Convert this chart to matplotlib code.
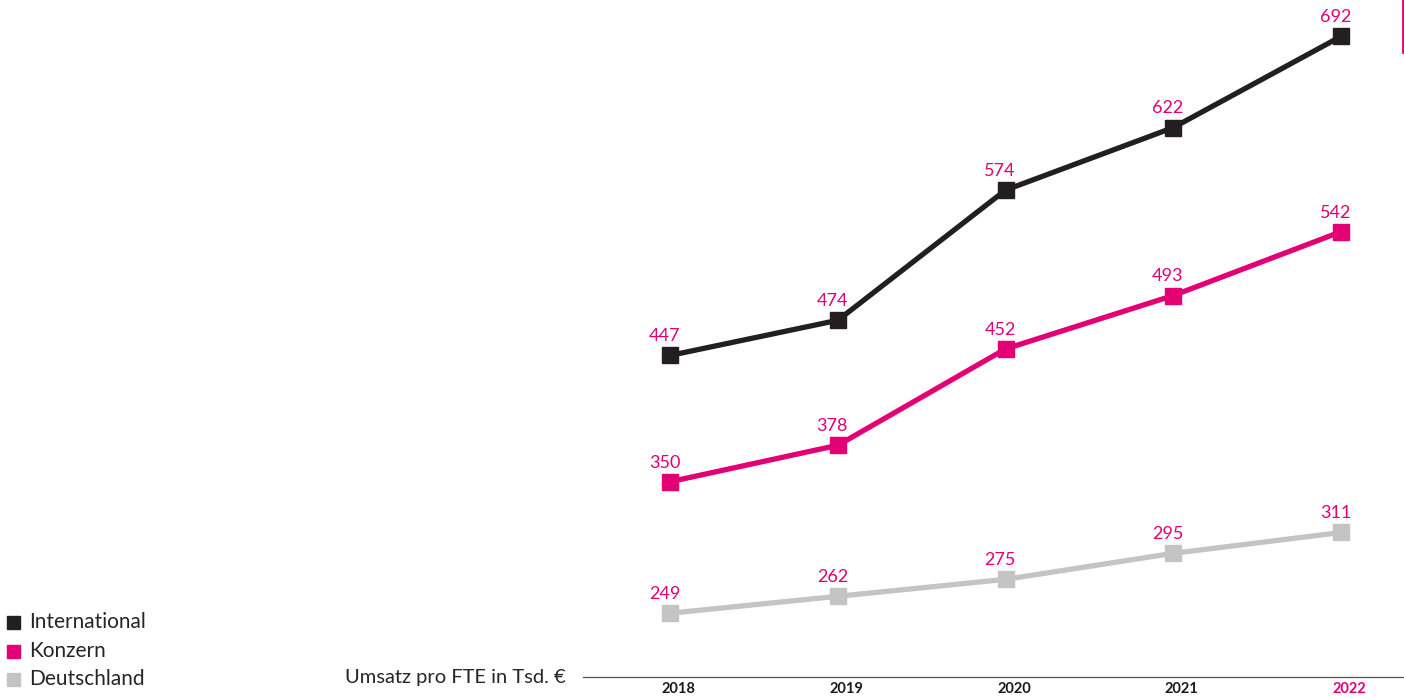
import numpy as np
import matplotlib.pyplot as plt
from matplotlib import transforms

years = ['2018', '2019', '2020', '2021', '2022']
international = [447, 474, 574, 622, 692]
konzern = [350, 378, 452, 493, 542]
deutschland = [249, 262, 275, 295, 311]

series = [
    ('International', international, '#231f20'),
    ('Konzern', konzern, '#e20074'),
    ('Deutschland', deutschland, '#c4c4c4'),
]
magenta = '#e20074'

plt.rcParams['font.family'] = ['Lato', 'DejaVu Sans']

fig = plt.figure(figsize=(14.04, 6.97), dpi=100)
ax = fig.add_axes([583 / 1404, 20 / 697, 821 / 1404, 677 / 697])
ax.set_xlim(-0.52, 4.376)
ax.set_ylim(200, 720)
ax.axis('off')

x = np.arange(len(years))
for name, vals, col in series:
    ax.plot(x, vals, color=col, lw=3.8, marker='s', ms=11.5,
            solid_capstyle='butt', zorder=3)
    for xi, v in zip(x, vals):
        ax.annotate(str(v), (xi, v), xytext=(-4, 8), textcoords='offset points',
                    ha='center', va='bottom', fontsize=13, color=magenta)

# baseline
ax.axhline(ax.get_ylim()[0], color='#555555', lw=0.9, clip_on=False)

# year labels
trans = transforms.blended_transform_factory(ax.transData, fig.transFigure)
for xi, yr in zip(x, years):
    ax.text(xi + 0.05, 1 - 682 / 697, yr, transform=trans, ha='center', va='top',
            fontsize=10.5, fontweight='bold',
            color=magenta if yr == '2022' else '#1a1a1a', clip_on=False)

fig.text(566 / 1404, 1 - 677 / 697, 'Umsatz pro FTE in Tsd. €', ha='right',
         va='center', fontsize=14.5, color='#262626')

# legend
leg_y = [622, 651, 679]
for (name, vals, col), yy in zip(series, leg_y):
    fy = 1 - yy / 697
    fig.patches.append(plt.Rectangle((7 / 1404, fy - 6.5 / 697), 13 / 1404, 13 / 697,
                                     transform=fig.transFigure, color=col))
    fig.text(29 / 1404, fy, name, ha='left', va='center', fontsize=15,
             color='#262626')

# edge of the neighbouring panel at top right
fig.add_artist(plt.Line2D([1402.5 / 1404, 1402.5 / 1404], [1, 1 - 52 / 697],
                          transform=fig.transFigure, color=magenta, lw=2))

fig.savefig('out.png', dpi=100)
